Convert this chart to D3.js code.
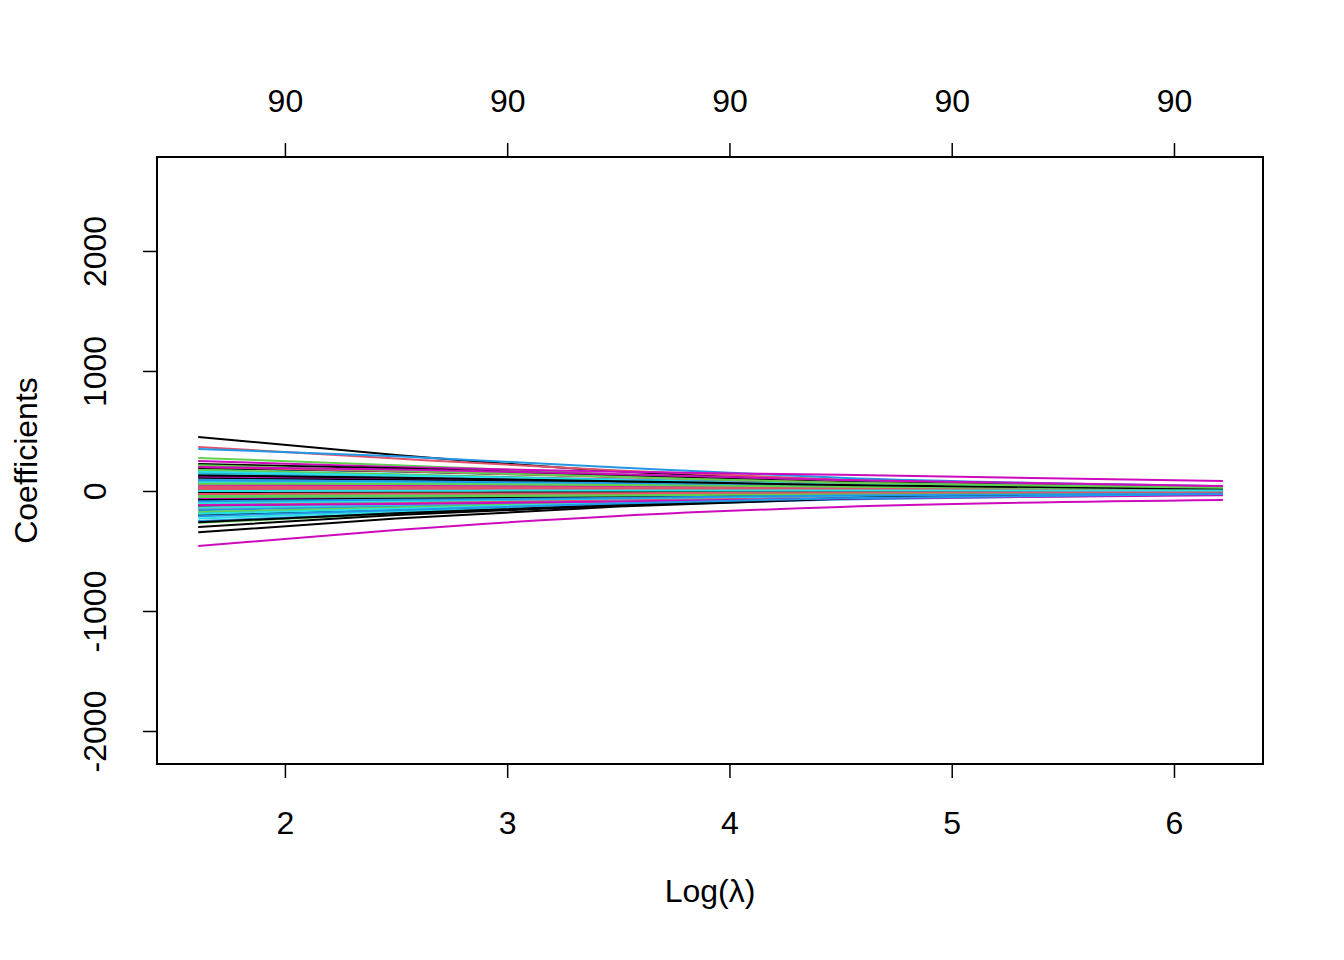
<!DOCTYPE html>
<html><head><meta charset="utf-8">
<script src="https://cdn.jsdelivr.net/npm/d3@7"></script>
<style>body{margin:0;background:#fff}svg{display:block}text{font-family:"Liberation Sans",Arial,sans-serif;fill:#000}</style>
</head><body><svg id="c" width="1344" height="960"></svg>
<script>
// log(lambda) positions where coefficients were read
const logLambda = [1.61, 2.5, 3.5, 4.5, 6.22];
// coefficients of the 90 variables at each log(lambda)
const coefAtL1 = [450,367,275,350,190,250,225,160,-265,-250,-230,-458,-345,120,95,-180,60,130,-300,-150,-200,40,-90,100,80,-60,150,-110,20,70,-40,50,-130,10,-20,115,190,-80,30,-160,140,-30,-200,85,-95,65,-140,90,5,-10,175,-55,105,55,-120,25,-175,130,-45,75,110,-115,45,-70,75,-65,-75,200,-35,155,-100,40,-15,35,-50,90,-190,120,-260,15,60,-85,160,-120,130,-25,215,-210,0,200];
const coefAtL2 = [300,270,215,290,160,200,190,125,-190,-185,-170,-325,-230,95,80,-140,55,115,-200,-120,-150,38,-75,90,75,-52,120,-95,22,68,-35,48,-105,12,-18,100,165,-70,30,-125,112,-30,-150,76,-82,60,-115,82,8,-8,140,-50,90,55,-95,25,-138,108,-42,72,95,-98,44,-62,68,-62,-65,165,-32,130,-85,42,-12,34,-46,82,-148,108,-185,15,58,-74,130,-108,110,-22,170,-160,2,180];
const coefAtL3 = [165,170,140,195,120,160,130,85,-115,-120,-110,-208,-130,65,60,-95,45,90,-120,-80,-95,30,-55,70,60,-40,85,-70,20,58,-25,42,-72,12,-14,78,120,-55,26,-85,78,-28,-100,60,-62,50,-80,66,10,-6,95,-40,68,50,-65,22,-92,80,-34,62,72,-72,38,-48,55,-55,-48,115,-26,95,-62,40,-8,30,-38,65,-98,88,-115,14,50,-58,92,-88,82,-18,118,-105,4,140];
const coefAtL4 = [85,95,80,110,75,135,75,50,-60,-70,-60,-133,-65,40,38,-55,32,60,-60,-48,-50,22,-35,48,40,-28,52,-45,15,40,-15,30,-42,10,-10,52,70,-38,20,-50,46,-22,-55,40,-40,36,-48,46,9,-4,55,-28,44,38,-38,17,-54,50,-24,45,45,-46,28,-32,38,-42,-30,68,-18,60,-40,32,-5,22,-27,44,-56,62,-60,11,36,-38,55,-62,50,-13,68,-60,4,92];
const coefAtL5 = [30,35,30,40,32,83,25,20,-22,-28,-25,-75,-20,15,18,-25,14,28,-18,-20,-15,10,-15,22,12,-12,20,-22,8,18,-5,14,-16,6,-5,24,22,-18,10,-20,18,-12,-18,18,-18,16,-20,22,5,-2,20,-14,18,20,-12,9,-22,22,-12,25,15,-22,13,-15,16,-25,-10,26,-9,26,-18,17,-2,11,-13,20,-22,30,-20,6,16,-18,22,-35,16,-7,26,-25,3,42];
// tick labels
const xTicks = [2, 3, 4, 5, 6];
const topLabels = ["90", "90", "90", "90", "90"];
const yTicks = [-2000, -1000, 0, 1000, 2000];
const palette = ["#000000", "#DF536B", "#61D04F", "#2297E6", "#28E2E5", "#CD0BBC"];

const svg = d3.select("#c");
const L = 157, R = 1263, T = 157, B = 764;
const FS = 32;
const x = d3.scaleLinear().domain([1.4245, 6.4005]).range([L, R]);
const y = d3.scaleLinear().domain([-2275, 2783]).range([B, T]);

const cols = [coefAtL1, coefAtL2, coefAtL3, coefAtL4, coefAtL5];
const series = coefAtL1.map((_, i) => logLambda.map((l, j) => [l, cols[j][i]]));
const line = d3.line().x(d => x(d[0])).y(d => y(d[1])).curve(d3.curveMonotoneX);
svg.append("clipPath").attr("id", "clip").append("rect").attr("x", L).attr("y", T).attr("width", R - L).attr("height", B - T);
const g = svg.append("g").attr("clip-path", "url(#clip)");
series.forEach((s, i) => {
  g.append("path").attr("d", line(s)).attr("fill", "none")
    .attr("stroke", palette[i % 6]).attr("stroke-width", 2);
});

// box
svg.append("rect").attr("x", L).attr("y", T).attr("width", R - L).attr("height", B - T)
  .attr("fill", "none").attr("stroke", "#000").attr("stroke-width", 2);

// bottom axis
const bax = svg.append("g").attr("transform", `translate(0,${B})`)
  .call(d3.axisBottom(x).tickValues(xTicks).tickSize(14).tickFormat(d => String(d)));
bax.select(".domain").remove();
bax.selectAll("line").attr("stroke-width", 1.5);
bax.selectAll("text").attr("font-size", FS).attr("dy", null).attr("y", 70);

// top axis
const tax = svg.append("g").attr("transform", `translate(0,${T})`)
  .call(d3.axisTop(x).tickValues(xTicks).tickSize(14).tickFormat((d, i) => topLabels[i]));
tax.select(".domain").remove();
tax.selectAll("line").attr("stroke-width", 1.5);
tax.selectAll("text").attr("font-size", FS).attr("dy", null).attr("y", -45);

// left axis
const lax = svg.append("g").attr("transform", `translate(${L},0)`)
  .call(d3.axisLeft(y).tickValues(yTicks).tickSize(14).tickFormat(d => String(d)));
lax.select(".domain").remove();
lax.selectAll("line").attr("stroke-width", 1.5);
lax.selectAll("text").attr("font-size", FS).attr("dy", null).attr("x", null)
  .attr("text-anchor", "middle")
  .attr("transform", "translate(-51,0) rotate(-90)");

// titles
svg.append("text").attr("x", (L + R) / 2).attr("y", 902).attr("text-anchor", "middle")
  .attr("font-size", FS).text("Log(λ)");
svg.append("text").attr("transform", `translate(37,${(T + B) / 2}) rotate(-90)`)
  .attr("text-anchor", "middle").attr("font-size", FS).text("Coefficients");
</script></body></html>
